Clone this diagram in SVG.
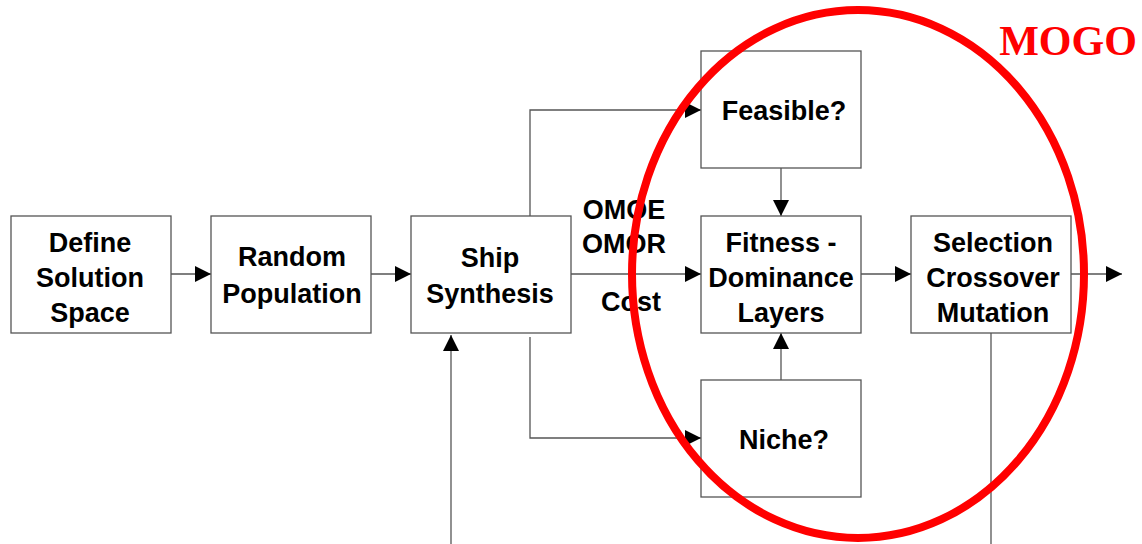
<svg xmlns="http://www.w3.org/2000/svg" width="1142" height="544" viewBox="0 0 1142 544">
<defs>
<style>
.box{fill:#fff;stroke:#555;stroke-width:1.3}
.t{font-family:"Liberation Sans",Arial,sans-serif;font-weight:bold;font-size:27px;fill:#000;text-anchor:middle}
.ln{fill:none;stroke:#555;stroke-width:1.3}
</style>
<marker id="ah" viewBox="0 0 16 16" refX="16" refY="8" markerWidth="16" markerHeight="16" markerUnits="userSpaceOnUse" orient="auto">
<path d="M0,0 L16,8 L0,16 Z" fill="#000"/>
</marker>
</defs>
<rect width="1142" height="544" fill="#fff"/>
<g id="connectors">
<line class="ln" x1="171" y1="274" x2="211" y2="274" marker-end="url(#ah)"/>
<line class="ln" x1="371" y1="274" x2="411" y2="274" marker-end="url(#ah)"/>
<line class="ln" x1="571" y1="274" x2="701" y2="274" marker-end="url(#ah)"/>
<line class="ln" x1="861" y1="274" x2="911" y2="274" marker-end="url(#ah)"/>
<line class="ln" x1="1071" y1="274" x2="1122" y2="274" marker-end="url(#ah)"/>
<polyline class="ln" points="530,216 530,110 701,110" marker-end="url(#ah)"/>
<polyline class="ln" points="530,337 530,438 701,438" marker-end="url(#ah)"/>
<line class="ln" x1="781" y1="168" x2="781" y2="216" marker-end="url(#ah)"/>
<line class="ln" x1="781" y1="380" x2="781" y2="333" marker-end="url(#ah)"/>
<line class="ln" x1="451" y1="544" x2="451" y2="335" marker-end="url(#ah)"/>
<line class="ln" x1="991" y1="333" x2="991" y2="544"/>
<text class="t" x="624" y="219">OMOE</text>
<text class="t" x="624" y="253">OMOR</text>
<text class="t" x="631" y="311">Cost</text>
</g>
<g id="define">
<rect class="box" x="11" y="216" width="160" height="117"/>
<text class="t" x="90" y="252">Define</text>
<text class="t" x="90" y="287">Solution</text>
<text class="t" x="90" y="322">Space</text>
</g>
<g id="random">
<rect class="box" x="211" y="216" width="160" height="117"/>
<text class="t" x="292" y="266">Random</text>
<text class="t" x="292" y="303">Population</text>
</g>
<g id="ship">
<rect class="box" x="411" y="216" width="160" height="117"/>
<text class="t" x="490" y="267">Ship</text>
<text class="t" x="490" y="303">Synthesis</text>
</g>
<g id="feasible">
<rect class="box" x="701" y="51" width="160" height="117"/>
<text class="t" x="784" y="120">Feasible?</text>
</g>
<g id="fitness">
<rect class="box" x="701" y="216" width="160" height="117"/>
<text class="t" x="781" y="252">Fitness -</text>
<text class="t" x="781" y="287">Dominance</text>
<text class="t" x="781" y="322">Layers</text>
</g>
<g id="niche">
<rect class="box" x="701" y="380" width="160" height="117"/>
<text class="t" x="784" y="449">Niche?</text>
</g>
<g id="selection">
<rect class="box" x="911" y="216" width="160" height="117"/>
<text class="t" x="993" y="252">Selection</text>
<text class="t" x="993" y="287">Crossover</text>
<text class="t" x="993" y="322">Mutation</text>
</g>
<g id="mogo">
<ellipse cx="858" cy="274" rx="226" ry="264" fill="none" stroke="#f00" stroke-width="8"/>
<text x="1068" y="55" font-family="'Liberation Serif','Times New Roman',serif" font-weight="bold" font-size="42" fill="#f00" text-anchor="middle">MOGO</text>
</g>
</svg>
